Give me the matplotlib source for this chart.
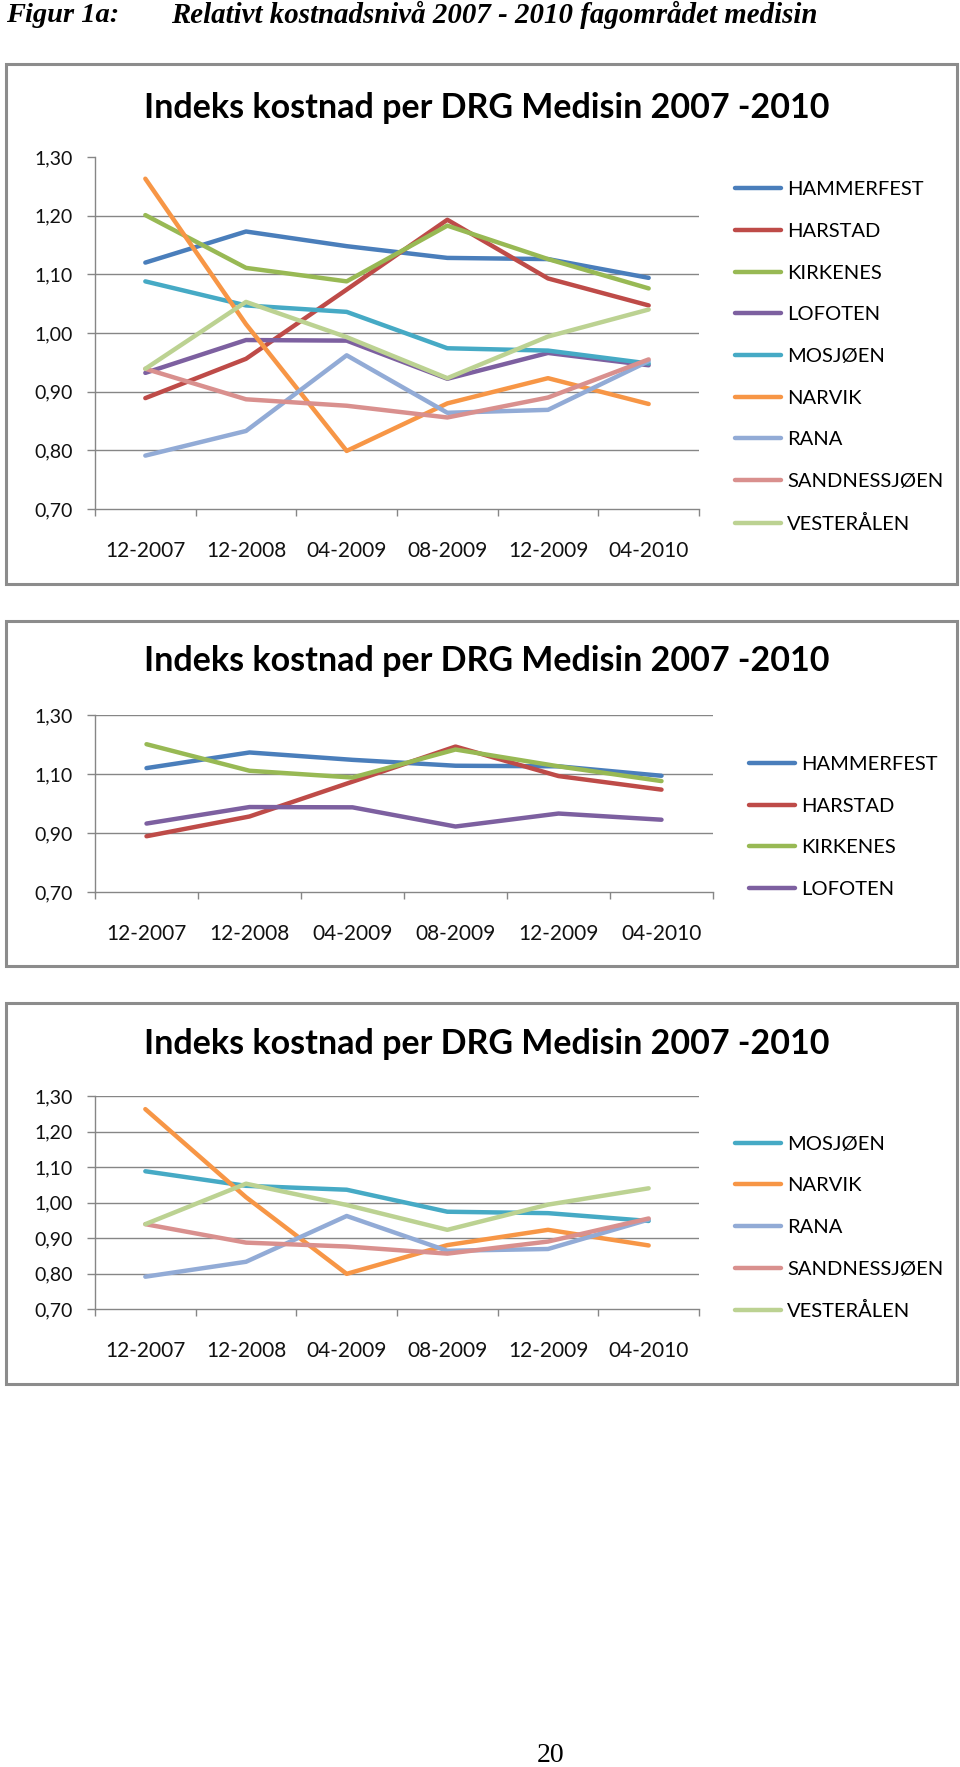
import numpy as np
import matplotlib
matplotlib.use('Agg')
import matplotlib.pyplot as plt
from matplotlib.patches import Rectangle

# data
kategorier = ['12-2007', '12-2008', '04-2009', '08-2009', '12-2009', '04-2010']
hammerfest = [1.120, 1.173, 1.148, 1.128, 1.126, 1.094]
harstad = [0.889, 0.956, 1.074, 1.193, 1.093, 1.047]
kirkenes = [1.201, 1.111, 1.088, 1.183, 1.126, 1.076]
lofoten = [0.932, 0.988, 0.987, 0.922, 0.966, 0.945]
mosjoen = [1.088, 1.047, 1.036, 0.974, 0.970, 0.948]
narvik = [1.263, 1.015, 0.799, 0.880, 0.923, 0.879]
rana = [0.791, 0.833, 0.962, 0.864, 0.869, 0.952]
sandnessjoen = [0.939, 0.887, 0.876, 0.856, 0.890, 0.955]
vesteralen = [0.939, 1.053, 0.993, 0.923, 0.994, 1.040]

navn = ['HAMMERFEST', 'HARSTAD', 'KIRKENES', 'LOFOTEN', 'MOSJØEN',
        'NARVIK', 'RANA', 'SANDNESSJØEN', 'VESTERÅLEN']
serier = [hammerfest, harstad, kirkenes, lofoten, mosjoen,
          narvik, rana, sandnessjoen, vesteralen]
farger = ['#4A7EBB', '#BE4B48', '#98B954', '#7D60A0', '#46AAC5',
          '#F79646', '#92ABD6', '#D9908E', '#BCD292']

W, H = 960, 1767
fig = plt.figure(figsize=(W / 100, H / 100), dpi=100)
fig.patch.set_facecolor('white')

SANS = ['Lato', 'DejaVu Sans']
SERIF = ['Liberation Serif', 'DejaVu Serif']
GRAA = '#868686'


def px_axes(x0, y0, x1, y1):
    return fig.add_axes([x0 / W, 1 - y1 / H, (x1 - x0) / W, (y1 - y0) / H])


def ramme(y0, y1):
    fig.patches.append(Rectangle((6 / W, 1 - y1 / H), 951 / W, (y1 - y0) / H,
                                 transform=fig.transFigure, fill=False,
                                 edgecolor='#8C8C8C', linewidth=2.2))


def panel(boks, akse, utvalg, yticks, topp_grid, leg_x, leg_y, tittel_y):
    ramme(*boks)
    ax = px_axes(*akse)
    x = np.arange(len(kategorier))
    linjer = []
    for i in utvalg:
        l, = ax.plot(x, serier[i], color=farger[i], lw=3.2, label=navn[i],
                     solid_joinstyle='round', solid_capstyle='round')
        linjer.append(l)
    ax.set_xlim(-0.5, len(kategorier) - 0.5)
    ax.set_ylim(0.70, 1.30)
    ax.set_yticks(yticks)
    ax.set_yticklabels([f'{v:.2f}'.replace('.', ',') for v in yticks],
                       family=SANS, fontsize=14, color='#111111')
    for v in yticks[1:]:
        if v < 1.299 or topp_grid:
            ax.axhline(v, color=GRAA, lw=1.0, zorder=0)
    ax.set_xticks(x)
    ax.set_xticklabels(kategorier, family=SANS, fontsize=15, color='#111111')
    ax.set_xticks(np.arange(len(kategorier) + 1) - 0.5, minor=True)
    ax.tick_params(axis='x', which='major', length=0, pad=23)
    ax.tick_params(axis='x', which='minor', length=5, color=GRAA, width=1)
    ax.tick_params(axis='y', length=6, color=GRAA, width=1, pad=10)
    for s in ['top', 'right']:
        ax.spines[s].set_visible(False)
    for s in ['left', 'bottom']:
        ax.spines[s].set_color(GRAA)
        ax.spines[s].set_linewidth(1.0)
    fig.legend(handles=linjer, loc='center left',
               bbox_to_anchor=(leg_x / W, 1 - leg_y / H),
               frameon=False, prop={'family': SANS, 'size': 14.5},
               handlelength=2.3, handletextpad=0.3, labelspacing=1.22,
               borderpad=0, borderaxespad=0)
    fig.text(487 / W, 1 - tittel_y / H, 'Indeks kostnad per DRG Medisin 2007 -2010',
             family=SANS, weight='bold', fontsize=24.5, ha='center', va='center')


panel((64, 584), (95, 157, 699, 509), range(9),
      [0.7, 0.8, 0.9, 1.0, 1.1, 1.2, 1.3], False, 735, 357, 108)
panel((621, 966), (95, 715, 713, 892), range(4),
      [0.7, 0.9, 1.1, 1.3], True, 749, 827, 661)
panel((1003, 1384), (95, 1096, 699, 1309), range(4, 9),
      [0.7, 0.8, 0.9, 1.0, 1.1, 1.2, 1.3], True, 735, 1228, 1044)

fig.text(6 / W, 1 - 15 / H, 'Figur 1a:', family=SERIF, weight='bold',
         style='italic', fontsize=20.5, va='center', ha='left')
fig.text(171 / W, 1 - 15 / H,
         'Relativt kostnadsnivå 2007 - 2010 fagområdet medisin',
         family=SERIF, weight='bold', style='italic', fontsize=20.8,
         va='center', ha='left')
fig.text(551 / W, 1 - 1755 / H, '20', family=SERIF, fontsize=20,
         ha='center', va='center')

fig.savefig('out.png', dpi=100, facecolor='white')
